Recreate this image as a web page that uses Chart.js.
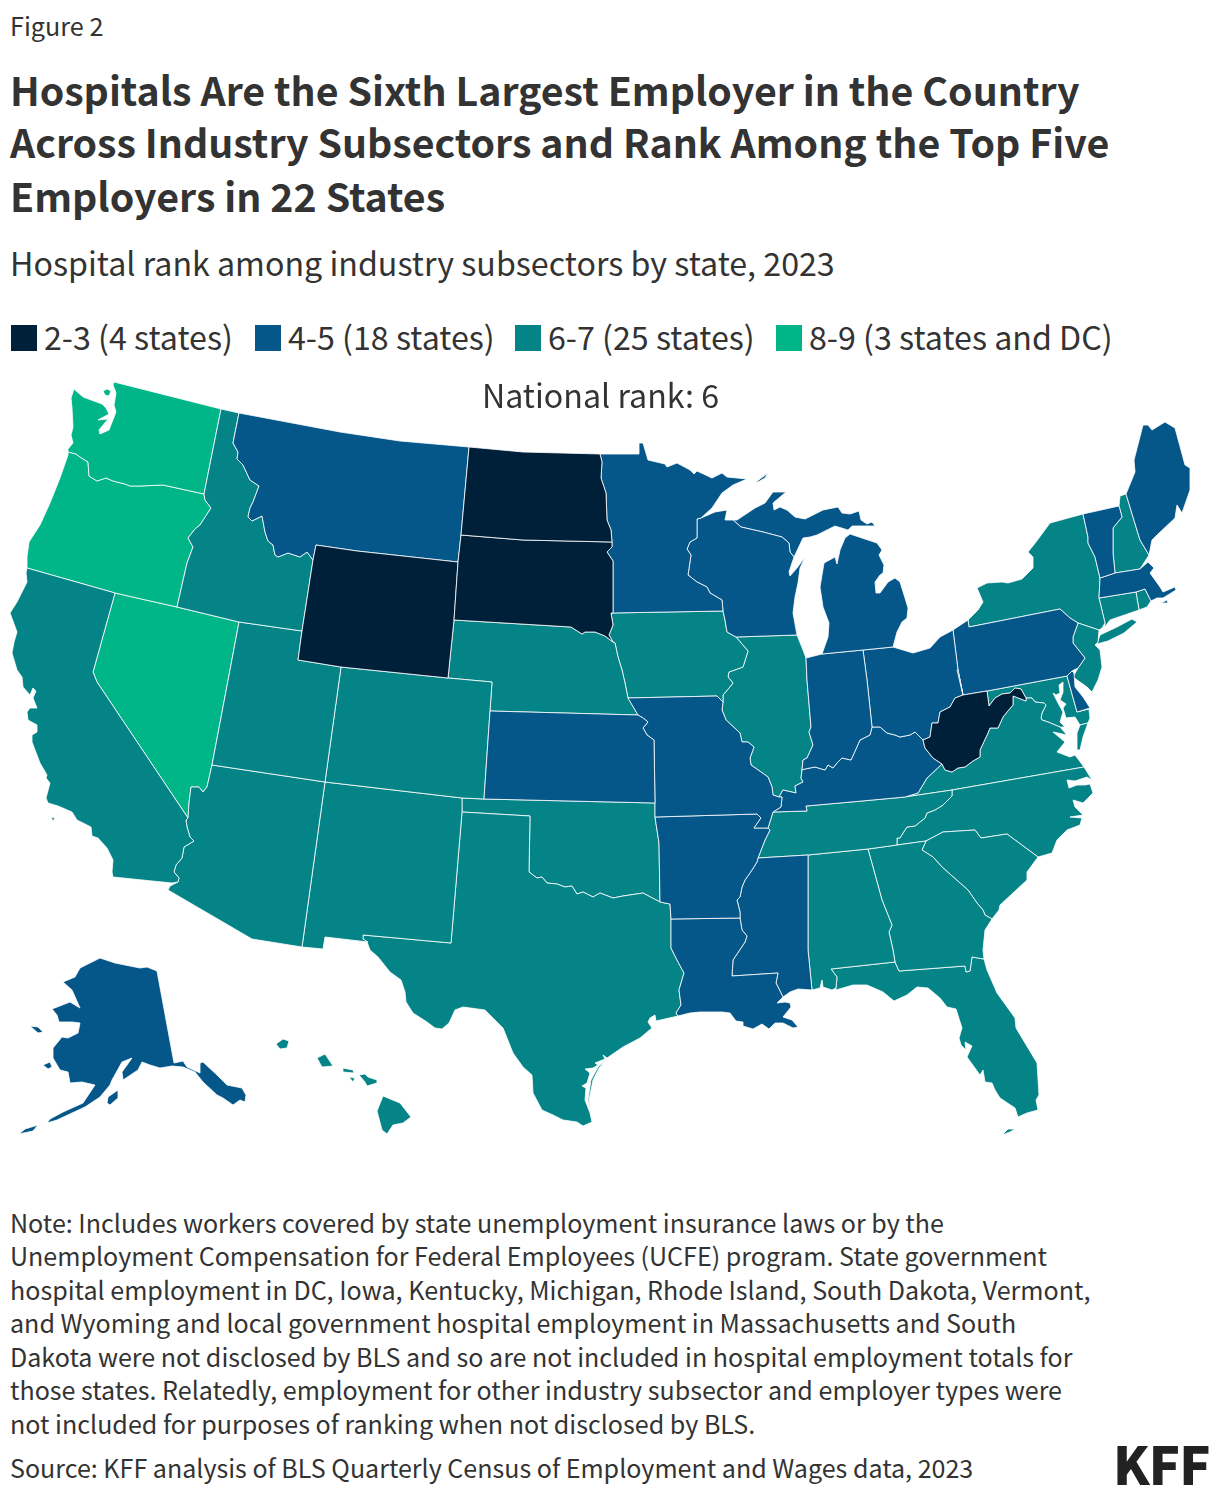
<!DOCTYPE html>
<html><head><meta charset="utf-8">
<script src="https://cdn.jsdelivr.net/npm/chart.js@4/dist/chart.umd.js"></script>
<style>
html,body{margin:0;padding:0;background:#fff;width:1220px;height:1496px;overflow:hidden}
body{font-family:"Noto Sans CJK SC","Noto Sans",sans-serif;color:#333;position:relative}
.t{position:absolute;white-space:nowrap;line-height:1}
#wrap{position:absolute;left:0;top:360px;width:1220px;height:800px}
.sw{position:absolute;width:26px;height:26px;top:325px}
</style></head><body>
<div class="t" style="left:10px;top:13px;font-size:25.2px">Figure 2</div>
<div class="t" style="left:10px;top:69px;font-size:39.3px;font-weight:700">Hospitals Are the Sixth Largest Employer in the Country</div>
<div class="t" style="left:10px;top:121px;font-size:39.3px;font-weight:700">Across Industry Subsectors and Rank Among the Top Five</div>
<div class="t" style="left:10px;top:175px;font-size:39.3px;font-weight:700">Employers in 22 States</div>
<div class="t" style="left:10px;top:246px;font-size:32.2px">Hospital rank among industry subsectors by state, 2023</div>
<div id="legend"></div>
<div class="t" style="left:0;width:1201px;text-align:center;top:378px;font-size:32.2px;z-index:2">National rank: 6</div>
<div id="wrap"><canvas id="map" width="1220" height="800"></canvas></div>
<div id="notes"></div>
<div class="t" style="left:10px;top:1455px;font-size:25.05px">Source: KFF analysis of BLS Quarterly Census of Employment and Wages data, 2023</div>
<div class="t" style="left:1113px;top:1437px;font-size:52px;font-weight:900;color:#222;letter-spacing:-1px">KFF</div>
<script>
const legendLabels=["2-3 (4 states)","4-5 (18 states)","6-7 (25 states)","8-9 (3 states and DC)"];
const legendColors=["#00203A","#055789","#058488","#00B587"];
const legendX=[11,255,515,776];
const noteLines=["Note: Includes workers covered by state unemployment insurance laws or by the","Unemployment Compensation for Federal Employees (UCFE) program. State government","hospital employment in DC, Iowa, Kentucky, Michigan, Rhode Island, South Dakota, Vermont,","and Wyoming and local government hospital employment in Massachusetts and South","Dakota were not disclosed by BLS and so are not included in hospital employment totals for","those states. Relatedly, employment for other industry subsector and employer types were","not included for purposes of ranking when not disclosed by BLS."];

// state outlines, in map units
const WA=[[114,382],[221,409],[204,494],[163,485],[140,486],[130,486],[125,484],[113,481],[106,478],[97,481],[89,476],[88,462],[80,457],[76,454],[68,452],[68,449],[73,443],[71,435],[73,427],[72,408],[71,398],[74,389],[83,397],[102,404],[106,408],[109,414],[98,420],[108,419],[99,430],[100,434],[109,430],[116,412],[114,405],[116,393],[113,385]];
const WA2=[[103,391],[107,389],[111,391],[109,396],[105,395]];
const OR=[[68,452],[76,454],[80,457],[88,462],[89,476],[97,481],[106,478],[113,481],[125,484],[130,486],[140,486],[163,485],[204,494],[205,500],[211,508],[200,525],[195,529],[188,538],[193,547],[187,563],[177,607],[115,593],[27,568],[27,557],[29,542],[40,525],[50,503],[60,478],[68,455]];
const ID=[[221,409],[239,413],[233,443],[238,452],[237,459],[243,465],[250,480],[259,486],[253,502],[250,508],[248,517],[252,521],[262,516],[265,532],[268,541],[273,545],[275,555],[278,557],[288,553],[300,557],[307,552],[313,560],[302,631],[239,622],[177,607],[187,563],[193,547],[188,538],[195,529],[200,525],[211,508],[205,500],[204,494]];
const MT=[[239,413],[340,432],[400,441],[469,447],[461,535],[458,562],[357,551],[316,545],[313,560],[307,552],[300,557],[288,553],[278,557],[275,555],[273,545],[268,541],[265,532],[262,516],[252,521],[248,517],[250,508],[253,502],[259,486],[250,480],[243,465],[237,459],[238,452],[233,443]];
const WY=[[316,545],[357,551],[458,562],[454,620],[448,678],[341,667],[298,660],[302,631],[313,560]];
const ND=[[469,447],[523,452],[600,454],[602,462],[601,478],[606,493],[607,520],[611,530],[612,542],[523,540],[461,535]];
const SD=[[461,535],[523,540],[612,542],[612,547],[607,552],[613,561],[613,613],[611,613],[613,625],[609,635],[613,642],[605,636],[595,632],[585,632],[582,634],[571,627],[454,620],[458,562]];
const NE=[[454,620],[571,627],[582,634],[585,632],[595,632],[605,636],[613,642],[615,643],[618,657],[622,670],[625,683],[627,693],[628,698],[638,715],[490,711],[492,682],[448,678]];
const CO=[[341,667],[448,678],[492,682],[490,711],[484,799],[462,798],[325,782]];
const KS=[[490,711],[638,715],[643,718],[648,722],[643,728],[647,735],[654,740],[655,803],[484,799]];
const OK=[[462,798],[484,799],[655,803],[655,817],[659,843],[660,902],[643,893],[623,896],[613,898],[600,893],[593,897],[583,892],[577,894],[572,886],[565,887],[557,884],[547,883],[542,877],[537,878],[529,872],[530,816],[462,812]];
const NM=[[325,782],[462,798],[462,812],[451,943],[363,935],[363,939],[368,942],[325,937],[323,949],[302,947]];
const TX=[[462,812],[530,816],[529,872],[537,878],[542,877],[547,883],[557,884],[565,887],[572,886],[577,894],[583,892],[593,897],[600,893],[613,898],[623,896],[643,893],[660,902],[665,903],[670,904],[671,919],[671,948],[677,960],[684,973],[679,990],[681,1005],[676,1013],[678,1016],[656,1021],[655,1015],[650,1018],[648,1022],[652,1028],[640,1038],[623,1047],[607,1058],[603,1055],[605,1059],[595,1063],[598,1065],[593,1068],[585,1069],[590,1073],[587,1083],[582,1086],[586,1088],[585,1100],[590,1113],[592,1122],[583,1126],[577,1122],[563,1120],[553,1115],[542,1110],[533,1093],[532,1075],[523,1067],[513,1053],[503,1028],[493,1018],[485,1010],[463,1007],[455,1010],[449,1023],[442,1029],[435,1028],[427,1022],[413,1013],[406,1002],[405,992],[401,980],[390,972],[378,957],[370,950],[367,942],[363,939],[363,935],[451,943]];
const TX2=[[607,1058],[598,1067],[591,1080],[588,1100],[591,1112],[589,1100],[593,1080],[599,1068]];
const MO=[[628,698],[717,696],[723,702],[722,710],[726,720],[740,733],[742,742],[748,742],[754,747],[750,758],[751,765],[761,772],[768,777],[772,787],[773,795],[779,797],[782,797],[781,807],[773,812],[768,828],[754,828],[761,818],[757,814],[655,817],[655,803],[654,740],[647,735],[643,728],[648,722],[643,718],[638,715]];
const IA=[[611,613],[723,611],[725,620],[727,632],[736,637],[748,651],[743,667],[729,672],[728,677],[733,683],[729,688],[723,695],[723,702],[717,696],[628,698],[627,693],[625,683],[622,670],[618,657],[615,643],[613,642],[609,635],[613,625]];
const IL=[[736,637],[797,635],[803,650],[806,658],[807,680],[811,727],[809,732],[813,745],[807,758],[803,760],[802,770],[801,778],[803,782],[795,786],[796,793],[783,790],[779,797],[773,795],[772,787],[768,777],[761,772],[751,765],[750,758],[754,747],[748,742],[742,742],[740,733],[726,720],[722,710],[723,702],[723,695],[729,688],[733,683],[728,677],[729,672],[743,667],[748,651]];
const MN=[[600,454],[639,454],[639,443],[643,443],[648,460],[665,464],[667,467],[677,463],[690,470],[694,474],[697,471],[712,478],[722,473],[727,477],[747,479],[733,485],[722,493],[712,508],[701,518],[697,519],[697,538],[690,542],[687,549],[691,555],[688,575],[697,582],[707,587],[710,593],[722,600],[723,611],[611,613],[613,613],[613,561],[607,552],[612,547],[612,542],[611,530],[607,520],[606,493],[601,478],[602,462]];
const WI=[[697,519],[701,518],[715,512],[727,510],[725,520],[733,520],[741,527],[763,532],[782,537],[789,543],[790,552],[794,557],[789,572],[790,576],[797,568],[805,557],[800,568],[798,583],[795,597],[793,613],[797,635],[736,637],[727,632],[725,620],[723,611],[722,600],[710,593],[707,587],[697,582],[688,575],[691,555],[687,549],[690,542],[697,538]];
const MI=[[733,520],[741,527],[763,532],[782,537],[789,543],[790,552],[794,557],[795,555],[803,538],[810,537],[817,535],[835,526],[848,530],[852,526],[875,526],[872,522],[867,524],[861,520],[859,511],[850,514],[842,513],[838,507],[823,510],[817,513],[805,519],[795,517],[787,510],[780,507],[774,510],[773,503],[786,492],[773,492],[765,503],[755,508],[737,520]];
const MI2=[[850,534],[862,538],[877,543],[882,550],[879,555],[884,565],[883,573],[880,575],[875,582],[876,593],[880,593],[888,582],[895,578],[900,582],[905,598],[908,608],[907,618],[902,622],[897,632],[893,647],[863,650],[822,654],[828,637],[829,623],[823,607],[820,587],[824,563],[835,557],[837,564],[840,550],[845,538]];
const MI3=[[756,482],[768,473],[765,478],[758,482]];
const IN=[[806,658],[822,654],[863,650],[867,680],[872,727],[870,735],[860,740],[851,760],[842,758],[837,763],[833,768],[828,765],[825,770],[815,767],[805,769],[802,770],[803,760],[807,758],[813,745],[809,732],[811,727],[807,680]];
const OH=[[863,650],[893,647],[913,653],[930,648],[940,637],[953,630],[958,670],[963,695],[955,698],[950,707],[940,712],[938,723],[932,723],[930,737],[923,740],[915,732],[910,735],[900,737],[895,735],[887,733],[880,727],[872,727],[867,680]];
const WV=[[957,670],[958,670],[963,695],[987,691],[989,706],[995,698],[1002,694],[1010,693],[1015,688],[1021,689],[1026,698],[1026,701],[1013,696],[1013,705],[1007,712],[1003,717],[998,728],[990,728],[988,733],[980,750],[980,757],[973,761],[965,767],[958,768],[952,772],[945,770],[942,764],[933,758],[925,748],[923,740],[930,737],[932,723],[938,723],[940,712],[950,707],[955,698],[963,695]];
const MD=[[987,691],[1067,676],[1077,712],[1089,709],[1090,718],[1088,723],[1080,725],[1075,717],[1066,718],[1063,708],[1066,704],[1060,700],[1063,692],[1063,682],[1059,685],[1060,693],[1056,695],[1053,693],[1058,703],[1063,712],[1060,722],[1065,727],[1060,727],[1048,722],[1042,720],[1041,718],[1042,713],[1046,705],[1044,703],[1035,702],[1032,698],[1026,698],[1021,689],[1015,688],[1010,693],[1002,694],[995,698],[989,706]];
const DC=[[1044,703],[1047,704],[1046,707],[1043,706]];
const DE=[[1067,676],[1072,671],[1074,673],[1075,687],[1083,697],[1090,708],[1077,712]];
const VA=[[942,764],[945,770],[952,772],[958,768],[965,767],[973,761],[980,757],[980,750],[988,733],[990,728],[998,728],[1003,717],[1007,712],[1013,705],[1013,696],[1026,701],[1026,698],[1032,698],[1035,702],[1044,703],[1046,705],[1042,713],[1041,718],[1042,720],[1048,722],[1060,727],[1067,735],[1053,732],[1065,742],[1057,752],[1070,757],[1075,755],[1084,767],[952,790],[905,797],[918,793],[927,778]];
const VA2=[[1080,725],[1088,723],[1083,737],[1080,750],[1077,750],[1077,733]];
const KY=[[923,740],[925,748],[933,758],[942,764],[927,778],[918,793],[905,797],[840,803],[806,806],[807,811],[773,812],[781,807],[782,797],[779,797],[783,790],[796,793],[795,786],[803,782],[801,778],[802,770],[805,769],[815,767],[825,770],[828,765],[833,768],[837,763],[842,758],[851,760],[860,740],[870,735],[872,727],[880,727],[887,733],[895,735],[900,737],[910,735],[915,732]];
const TN=[[773,812],[807,811],[806,806],[840,803],[905,797],[952,790],[952,796],[943,805],[935,810],[927,813],[925,818],[915,826],[907,827],[903,833],[900,838],[897,838],[897,845],[868,849],[808,855],[758,858],[765,840],[770,830],[768,828]];
const AR=[[655,817],[757,814],[761,818],[754,828],[768,828],[770,830],[765,840],[758,858],[757,862],[752,870],[745,880],[742,887],[740,897],[737,900],[740,912],[740,918],[671,919],[670,904],[665,903],[660,902],[659,843]];
const LA=[[671,919],[740,918],[742,930],[747,936],[745,942],[733,960],[732,976],[778,973],[776,983],[783,997],[777,1003],[785,1002],[790,1003],[791,1007],[783,1017],[792,1020],[798,1027],[793,1028],[783,1023],[775,1023],[769,1029],[762,1024],[753,1029],[743,1026],[743,1022],[736,1021],[730,1013],[722,1012],[700,1012],[690,1013],[678,1016],[676,1013],[681,1005],[679,990],[684,973],[677,960],[671,948]];
const MS=[[758,858],[808,855],[808,950],[812,990],[798,989],[790,992],[783,997],[776,983],[778,973],[732,976],[733,960],[745,942],[747,936],[742,930],[740,918],[740,912],[737,900],[740,897],[742,887],[745,880],[752,870],[757,862]];
const AL=[[808,855],[868,849],[882,900],[892,925],[889,932],[893,950],[895,962],[831,969],[837,977],[836,988],[832,990],[823,987],[822,980],[820,988],[812,990],[808,950]];
const GA=[[868,849],[897,845],[926,841],[922,850],[933,857],[942,867],[960,883],[968,890],[977,903],[983,910],[985,915],[992,919],[985,930],[983,950],[984,959],[972,957],[970,971],[966,972],[965,966],[899,971],[895,962],[893,950],[889,932],[892,925],[882,900]];
const FL=[[895,962],[899,971],[965,966],[966,972],[970,971],[972,957],[984,959],[987,970],[997,993],[1015,1018],[1016,1028],[1037,1063],[1039,1095],[1036,1100],[1038,1110],[1027,1113],[1018,1117],[1015,1108],[1000,1098],[995,1090],[992,1083],[985,1082],[983,1070],[980,1075],[967,1057],[972,1046],[965,1042],[966,1050],[961,1045],[959,1038],[962,1028],[956,1009],[947,1007],[940,998],[928,988],[917,987],[907,995],[894,1001],[883,992],[867,985],[853,985],[836,990],[836,988],[837,977],[831,969]];
const FL2=[[1002,1135],[1008,1129],[1015,1129],[1010,1132]];
const SC=[[926,841],[943,832],[975,830],[981,838],[1007,834],[1038,857],[1027,872],[1027,880],[1013,893],[1000,905],[999,910],[992,919],[985,915],[983,910],[977,903],[968,890],[960,883],[942,867],[933,857],[922,850]];
const NC=[[952,790],[1084,767],[1092,780],[1087,777],[1075,781],[1067,780],[1069,788],[1077,785],[1085,785],[1090,784],[1093,793],[1083,803],[1073,800],[1075,807],[1083,815],[1070,817],[1082,818],[1080,825],[1067,830],[1057,840],[1052,853],[1038,857],[1007,834],[981,838],[975,830],[943,832],[926,841],[897,845],[897,838],[900,838],[903,833],[907,827],[915,826],[925,818],[927,813],[935,810],[943,805],[952,796]];
const CA=[[27,568],[115,593],[93,672],[97,682],[188,818],[186,820],[187,827],[190,837],[194,841],[184,847],[182,858],[176,865],[174,872],[179,878],[178,882],[172,883],[113,877],[112,872],[113,860],[107,848],[98,838],[92,836],[91,827],[77,820],[72,812],[58,806],[48,803],[46,798],[50,783],[46,778],[47,775],[40,763],[32,742],[32,735],[37,732],[37,725],[28,720],[27,712],[30,708],[37,708],[33,698],[36,691],[33,688],[30,695],[23,687],[22,677],[17,670],[12,653],[14,642],[17,632],[10,613],[17,602],[27,582],[26,573]];
const CA2=[[51,817],[55,818],[53,821]];
const NV=[[115,593],[177,607],[239,622],[230,670],[212,765],[207,787],[203,792],[199,787],[191,787],[189,803],[188,818],[97,682],[93,672]];
const UT=[[239,622],[302,631],[298,660],[341,667],[325,782],[212,765],[230,670]];
const AZ=[[212,765],[325,782],[302,947],[252,939],[168,890],[170,886],[178,882],[179,878],[174,872],[176,865],[182,858],[184,847],[194,841],[190,837],[187,827],[186,820],[188,818],[189,803],[191,787],[199,787],[203,792],[207,787]];
const PA=[[953,630],[968,620],[969,627],[1060,609],[1070,618],[1078,623],[1073,637],[1073,643],[1085,658],[1078,668],[1072,671],[1067,676],[987,691],[963,695],[958,670]];
const NY=[[968,620],[978,610],[983,602],[977,588],[987,583],[1002,582],[1008,583],[1022,579],[1033,568],[1033,557],[1028,552],[1036,542],[1050,523],[1083,514],[1088,537],[1088,543],[1095,557],[1100,578],[1099,598],[1105,623],[1102,628],[1099,630],[1078,623],[1070,618],[1060,609],[969,627]];
const NY2=[[1097,644],[1100,635],[1117,627],[1132,619],[1137,622],[1124,633],[1108,641]];
const NJ=[[1078,623],[1099,630],[1098,642],[1095,645],[1100,650],[1102,667],[1098,680],[1092,692],[1087,687],[1073,677],[1078,668],[1085,658],[1073,643],[1073,637]];
const VT=[[1083,514],[1119,506],[1122,517],[1113,528],[1113,553],[1115,573],[1100,578],[1095,557],[1088,543],[1088,537]];
const NH=[[1120,496],[1126,494],[1140,540],[1149,555],[1140,569],[1115,573],[1113,553],[1113,528],[1122,517],[1119,506]];
const ME=[[1126,494],[1135,472],[1134,460],[1143,425],[1148,425],[1152,430],[1165,422],[1175,428],[1185,465],[1190,468],[1190,490],[1182,513],[1177,505],[1175,518],[1157,535],[1152,540],[1149,555],[1140,540]];
const MA=[[1100,578],[1115,573],[1140,569],[1148,562],[1154,568],[1150,573],[1160,587],[1163,592],[1175,587],[1176,590],[1163,598],[1157,598],[1151,601],[1145,589],[1136,592],[1099,598]];
const MA2=[[1161,603],[1167,600],[1168,603]];
const CT=[[1099,598],[1136,592],[1139,610],[1110,620],[1105,627],[1105,623]];
const RI=[[1136,592],[1145,589],[1151,601],[1147,607],[1139,610]];
const AK=[[157,971],[174,1063],[183,1061],[187,1067],[200,1073],[200,1063],[203,1062],[217,1075],[227,1085],[242,1088],[246,1095],[245,1102],[240,1100],[233,1105],[223,1098],[217,1095],[203,1082],[195,1072],[183,1067],[172,1066],[160,1068],[150,1065],[142,1062],[138,1070],[123,1080],[122,1072],[132,1058],[122,1062],[112,1080],[110,1085],[100,1097],[85,1107],[72,1113],[57,1120],[47,1123],[50,1119],[63,1112],[83,1103],[95,1085],[82,1082],[70,1083],[68,1072],[60,1070],[53,1058],[53,1048],[62,1037],[68,1038],[78,1033],[80,1023],[72,1022],[59,1022],[57,1015],[52,1009],[70,1002],[80,1008],[72,990],[63,982],[75,977],[80,968],[100,958],[115,963],[140,968],[147,967]];
const AK2=[[107,1103],[108,1097],[118,1090],[118,1098],[110,1105]];
const AK3=[[43,1065],[50,1062],[52,1067],[48,1069]];
const AK4=[[30,1026],[38,1027],[43,1032],[38,1033]];
const AK5=[[19,1134],[25,1129],[38,1125],[33,1131]];
const AK6=[[206,1072],[212,1080],[220,1093],[212,1088],[204,1079]];
const AK7=[[222,1086],[234,1096],[236,1103],[225,1096]];
const HI=[[383,1096],[400,1103],[411,1117],[403,1123],[393,1125],[387,1134],[382,1130],[377,1111]];
const HI2=[[359,1075],[365,1074],[368,1077],[377,1080],[377,1083],[367,1086],[365,1082]];
const HI3=[[349,1077],[355,1078],[353,1082]];
const HI4=[[343,1068],[353,1070],[354,1073],[343,1072]];
const HI5=[[317,1058],[325,1054],[333,1066],[322,1067]];
const HI6=[[276,1044],[283,1039],[289,1041],[287,1048],[280,1049]];

// rank group of each state (index into legendLabels)
const rank23=[ND,SD,WY,WV];
const rank45=[MT,MN,WI,MI,MI2,MI3,KS,MO,AR,LA,MS,IN,OH,KY,PA,VT,ME,MA,MA2,DE,AK,AK2,AK3,AK4,AK5,AK6,AK7];
const rank67=[ID,CA,CA2,UT,CO,AZ,NM,TX,TX2,OK,NE,IA,IL,TN,AL,GA,FL,FL2,SC,NC,VA,VA2,MD,NJ,NY,NY2,CT,RI,NH,HI,HI2,HI3,HI4,HI5,HI6];
const rank89=[WA,WA2,OR,NV,DC];
const groups=[rank23,rank45,rank67,rank89];

legendLabels.forEach((l,i)=>{
  const s=document.createElement('div');s.className='sw';s.style.left=legendX[i]+'px';s.style.background=legendColors[i];document.body.appendChild(s);
  const t=document.createElement('div');t.className='t';t.textContent=l;t.style.cssText+=`left:${legendX[i]+33}px;top:320px;font-size:32.2px`;document.body.appendChild(t);
});
noteLines.forEach((l,i)=>{
  const t=document.createElement('div');t.className='t';t.textContent=l;t.style.cssText+=`left:10px;top:${1209.6+i*33.55}px;font-size:25.07px`;document.getElementById('notes').appendChild(t);
});

const datasets=[];
groups.forEach((g,i)=>g.forEach(poly=>{
  const pts=poly.concat([poly[0]]).map(p=>({x:p[0],y:p[1]}));
  datasets.push({label:legendLabels[i],data:pts,showLine:true,fill:'shape',backgroundColor:legendColors[i],borderColor:'#ffffff',borderWidth:0.8,borderDash:[1000,0],pointRadius:0,pointHoverRadius:0,tension:0,clip:false});
}));
new Chart(document.getElementById('map'),{type:'scatter',data:{datasets},options:{
  responsive:false,animation:false,devicePixelRatio:1,maintainAspectRatio:false,
  layout:{padding:0},
  plugins:{legend:{display:false},tooltip:{enabled:false},title:{display:false}},
  scales:{x:{type:'linear',min:0,max:1220,display:false},y:{type:'linear',min:360,max:1160,reverse:true,display:false}}
}});
</script>
</body></html>
